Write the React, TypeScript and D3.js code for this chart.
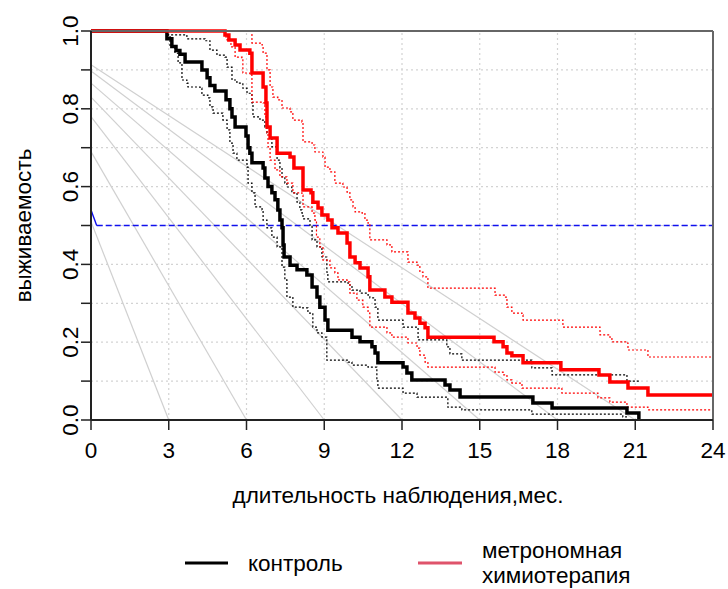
import React from "react";
import * as d3 from "d3";

// Kaplan-Meier steps: [month, survival after the event]
const controlKM = [
  [0, 1], [2.93, 0.98], [3.12, 0.96], [3.28, 0.95], [3.43, 0.94], [3.63, 0.92], [4.28, 0.9], [4.48, 0.88],
  [4.59, 0.86], [4.78, 0.846], [5.21, 0.823], [5.36, 0.8], [5.44, 0.779], [5.56, 0.753], [5.98, 0.73],
  [6.06, 0.7], [6.13, 0.686], [6.21, 0.661], [6.64, 0.648], [6.71, 0.622], [6.83, 0.6], [6.98, 0.584],
  [7.1, 0.566], [7.21, 0.54], [7.29, 0.514], [7.37, 0.494], [7.41, 0.45], [7.45, 0.419], [7.68, 0.398],
  [7.95, 0.386], [8.33, 0.373], [8.53, 0.342], [8.72, 0.316], [8.83, 0.29], [9.03, 0.257], [9.14, 0.231],
  [10.07, 0.213], [10.38, 0.201], [10.84, 0.188], [10.96, 0.172], [11.07, 0.147], [12.04, 0.136],
  [12.19, 0.121], [12.38, 0.103], [13.66, 0.09], [13.85, 0.077], [14.24, 0.059], [17.05, 0.044],
  [17.79, 0.031], [20.68, 0.018], [21.14, 0],
];
const controlUpper = [
  [0, 1], [2.93, 0.99], [3.7, 0.98], [4.4, 0.975], [4.59, 0.951], [4.86, 0.938], [5.17, 0.933], [5.25, 0.907],
  [5.44, 0.874], [5.63, 0.866], [5.86, 0.853], [6.02, 0.84], [6.21, 0.815], [6.25, 0.779], [6.52, 0.771],
  [6.71, 0.753], [6.79, 0.738], [6.91, 0.728], [6.98, 0.702], [7.18, 0.668], [7.29, 0.648], [7.37, 0.625],
  [7.48, 0.609], [7.56, 0.599], [7.75, 0.584], [7.95, 0.56], [8.06, 0.54], [8.14, 0.532], [8.18, 0.517],
  [8.45, 0.5], [8.53, 0.463], [8.72, 0.445], [8.91, 0.419], [9.1, 0.38], [9.14, 0.355], [9.92, 0.347],
  [10.07, 0.334], [10.38, 0.326], [10.69, 0.321], [10.76, 0.314], [10.96, 0.29], [11.07, 0.257],
  [12.04, 0.239], [12.62, 0.206], [13.73, 0.188], [13.85, 0.17], [14.31, 0.154], [17.01, 0.134],
  [17.79, 0.116], [20.68, 0.1], [21.14, 0.1],
];
const controlLower = [
  [0, 1], [2.93, 0.99], [3.05, 0.959], [3.24, 0.943], [3.36, 0.918], [3.51, 0.874], [3.7, 0.866],
  [3.74, 0.856], [4.21, 0.853], [4.28, 0.835], [4.51, 0.828], [4.59, 0.805], [4.71, 0.789], [5.09, 0.771],
  [5.25, 0.746], [5.36, 0.712], [5.48, 0.686], [5.63, 0.668], [6.02, 0.65], [6.06, 0.609], [6.21, 0.584],
  [6.33, 0.548], [6.6, 0.54], [6.64, 0.514], [6.79, 0.494], [6.98, 0.47], [7.18, 0.445], [7.37, 0.393],
  [7.48, 0.36], [7.56, 0.316], [7.79, 0.29], [8.14, 0.288], [8.37, 0.275], [8.56, 0.239], [8.72, 0.224],
  [8.91, 0.213], [9.1, 0.154], [9.92, 0.149], [10.07, 0.141], [10.69, 0.136], [11.03, 0.103],
  [11.07, 0.082], [12.04, 0.069], [12.58, 0.059], [13.58, 0.059], [13.77, 0.033], [14.31, 0.026],
  [17.01, 0.015], [20.52, 0.008], [20.68, 0.008],
];

const metroKM = [
  [0, 1], [5.17, 0.99], [5.32, 0.977], [5.56, 0.964], [5.75, 0.951], [6.13, 0.943], [6.21, 0.892],
  [6.64, 0.856], [6.75, 0.815], [6.79, 0.753], [6.91, 0.725], [7.18, 0.686], [7.68, 0.676], [7.83, 0.648],
  [8.18, 0.591], [8.49, 0.584], [8.56, 0.56], [8.76, 0.545], [8.91, 0.527], [9.14, 0.514], [9.3, 0.494],
  [9.53, 0.481], [9.88, 0.455], [9.99, 0.419], [10.19, 0.404], [10.38, 0.391], [10.69, 0.368],
  [10.76, 0.334], [11.34, 0.316], [11.61, 0.303], [12.23, 0.275], [12.5, 0.262], [12.69, 0.249],
  [12.89, 0.237], [13.0, 0.213], [15.55, 0.201], [15.9, 0.188], [16.05, 0.172], [16.24, 0.165],
  [16.67, 0.147], [18.13, 0.129], [19.6, 0.116], [20.02, 0.098], [20.72, 0.082], [21.49, 0.064], [24, 0.064],
];
const metroUpper = [
  [0, 1], [6.21, 0.969], [6.6, 0.964], [6.64, 0.943], [6.79, 0.9], [6.91, 0.856], [7.02, 0.83], [7.21, 0.823],
  [7.37, 0.802], [7.68, 0.792], [7.79, 0.771], [8.14, 0.766], [8.18, 0.715], [8.53, 0.707], [8.64, 0.689],
  [8.95, 0.676], [9.03, 0.65], [9.22, 0.638], [9.41, 0.609], [9.72, 0.599], [9.88, 0.586], [9.99, 0.566],
  [10.11, 0.548], [10.19, 0.535], [10.46, 0.532], [10.57, 0.514], [10.69, 0.506], [10.76, 0.463],
  [11.42, 0.45], [11.61, 0.432], [12.23, 0.406], [12.58, 0.398], [12.69, 0.38], [12.81, 0.368],
  [13.0, 0.339], [15.59, 0.321], [15.97, 0.316], [16.05, 0.29], [16.24, 0.275], [16.63, 0.27],
  [16.67, 0.257], [18.21, 0.239], [19.64, 0.219], [20.02, 0.213], [20.1, 0.201], [20.68, 0.198],
  [20.72, 0.18], [21.49, 0.162], [24, 0.162],
];
const metroLower = [
  [0, 1], [5.17, 0.985], [5.25, 0.977], [5.4, 0.959], [5.56, 0.933], [5.83, 0.931], [5.86, 0.892],
  [6.13, 0.887], [6.21, 0.817], [6.64, 0.815], [6.71, 0.779], [6.79, 0.738], [6.83, 0.702], [6.91, 0.668],
  [7.1, 0.643], [7.29, 0.625], [7.56, 0.609], [7.79, 0.584], [8.14, 0.578], [8.18, 0.548], [8.53, 0.532],
  [8.64, 0.514], [8.7, 0.47], [8.83, 0.445], [8.95, 0.411], [9.22, 0.391], [9.41, 0.378], [9.53, 0.36],
  [9.88, 0.355], [9.99, 0.326], [10.26, 0.308], [10.49, 0.29], [10.69, 0.275], [10.76, 0.239],
  [11.42, 0.224], [11.61, 0.213], [12.23, 0.198], [12.58, 0.185], [12.69, 0.167], [12.89, 0.149],
  [13.0, 0.136], [15.59, 0.123], [15.9, 0.116], [16.05, 0.103], [16.24, 0.095], [16.63, 0.082],
  [18.17, 0.069], [19.56, 0.057], [20.02, 0.046], [20.68, 0.033], [21.49, 0.026], [24, 0.026],
];

// grey guide lines: survival at 0 months -> month where they hit zero
const guideStart = [0.51, 0.69, 0.78, 0.83, 0.866, 0.897, 0.913];
const guideEnd = [3, 6, 9, 12, 15, 18, 21];

const monthTicks = [0, 3, 6, 9, 12, 15, 18, 21, 24];
const survTicks = [0, 0.1, 0.2, 0.3, 0.4, 0.5, 0.6, 0.7, 0.8, 0.9, 1];
const survLabels = [0, 0.2, 0.4, 0.6, 0.8, 1];
const median = 0.5;
const medianStart = 0.54;

const legendNames = ["контроль", "метрономная\nхимиотерапия"];

const font = "'Liberation Sans', Arial, sans-serif";
const fs = 22.5;

export default function App() {
  const x = d3.scaleLinear().domain([0, 24]).range([91, 713]);
  const y = d3.scaleLinear().domain([0, 1]).range([420, 31]);

  const step = d3.line().x(d => x(d[0])).y(d => y(d[1])).curve(d3.curveStepAfter);

  const grid = "#d3d3d3";

  return (
    <svg width={728} height={589} style={{ position: "absolute", left: 0, top: 0, background: "#fff" }}
      fontFamily={font}>
      {/* grid */}
      {monthTicks.slice(1, -1).map(m => (
        <line key={"gx" + m} x1={x(m)} x2={x(m)} y1={y(0)} y2={y(1)} stroke={grid} strokeWidth={1.2}
          strokeDasharray="2,3" />
      ))}
      {survTicks.slice(1, -1).map(s => (
        <line key={"gy" + s} x1={x(0)} x2={x(24)} y1={y(s)} y2={y(s)} stroke={grid} strokeWidth={1.2}
          strokeDasharray="2,3" />
      ))}

      {/* guide lines */}
      {guideStart.map((s, i) => (
        <line key={"g" + i} x1={x(0)} y1={y(s)} x2={x(guideEnd[i])} y2={y(0)} stroke="#d0d0d0" strokeWidth={1.2} />
      ))}

      {/* median */}
      <line x1={x(0)} y1={y(medianStart)} x2={x(0.22)} y2={y(median)} stroke="#1010ee" strokeWidth={1.4} />
      <line x1={x(0.22)} y1={y(median)} x2={x(24)} y2={y(median)} stroke="#1010ee" strokeWidth={1.4}
        strokeDasharray="6,3" />

      {/* confidence bands */}
      <path d={step(controlUpper)} fill="none" stroke="#000" strokeWidth={1.2} strokeDasharray="2,2" />
      <path d={step(controlLower)} fill="none" stroke="#000" strokeWidth={1.2} strokeDasharray="2,2" />
      <path d={step(metroUpper)} fill="none" stroke="#ff0000" strokeWidth={1.2} strokeDasharray="2,2" />
      <path d={step(metroLower)} fill="none" stroke="#ff0000" strokeWidth={1.2} strokeDasharray="2,2" />

      {/* KM curves */}
      <path d={step(controlKM)} fill="none" stroke="#000" strokeWidth={3.5} />
      <path d={step(metroKM)} fill="none" stroke="#ff0000" strokeWidth={3.5} />

      {/* box */}
      <line x1={x(0)} x2={x(24)} y1={y(1)} y2={y(1)} stroke="#666" strokeWidth={2} />
      <line x1={x(24)} x2={x(24)} y1={y(1)} y2={y(0)} stroke="#666" strokeWidth={2} />
      <line x1={x(0)} x2={x(0)} y1={y(1)} y2={y(0)} stroke="#222" strokeWidth={2} />
      <line x1={x(0)} x2={x(24)} y1={y(0)} y2={y(0)} stroke="#222" strokeWidth={2} />

      {/* x axis */}
      {monthTicks.map(m => (
        <g key={"xt" + m}>
          <line x1={x(m)} x2={x(m)} y1={y(0)} y2={y(0) + 10} stroke="#222" strokeWidth={1.5} />
          <text x={x(m)} y={458} textAnchor="middle" fontSize={fs}>{m}</text>
        </g>
      ))}
      <text x={x(12) - 4} y={503} textAnchor="middle" fontSize={fs}>длительность наблюдения,мес.</text>

      {/* y axis */}
      {survTicks.map(s => (
        <line key={"yt" + s} x1={x(0) - 10} x2={x(0)} y1={y(s)} y2={y(s)} stroke="#222" strokeWidth={1.5} />
      ))}
      {survLabels.map(s => (
        <text key={"yl" + s} transform={`translate(78,${y(s)}) rotate(-90)`} textAnchor="middle" fontSize={fs}>
          {s.toFixed(1)}
        </text>
      ))}
      <text transform={`translate(31,${(y(0) + y(1)) / 2}) rotate(-90)`} textAnchor="middle" fontSize={fs}>
        выживаемость
      </text>

      {/* legend */}
      <line x1={185} x2={228} y1={563} y2={563} stroke="#000" strokeWidth={3} />
      <text x={248} y={571} fontSize={fs}>{legendNames[0]}</text>
      <line x1={418} x2={462} y1={563} y2={563} stroke="#DF536B" strokeWidth={3} />
      {legendNames[1].split("\n").map((t, i) => (
        <text key={t} x={482} y={558 + i * 25} fontSize={fs}>{t}</text>
      ))}
    </svg>
  );
}
